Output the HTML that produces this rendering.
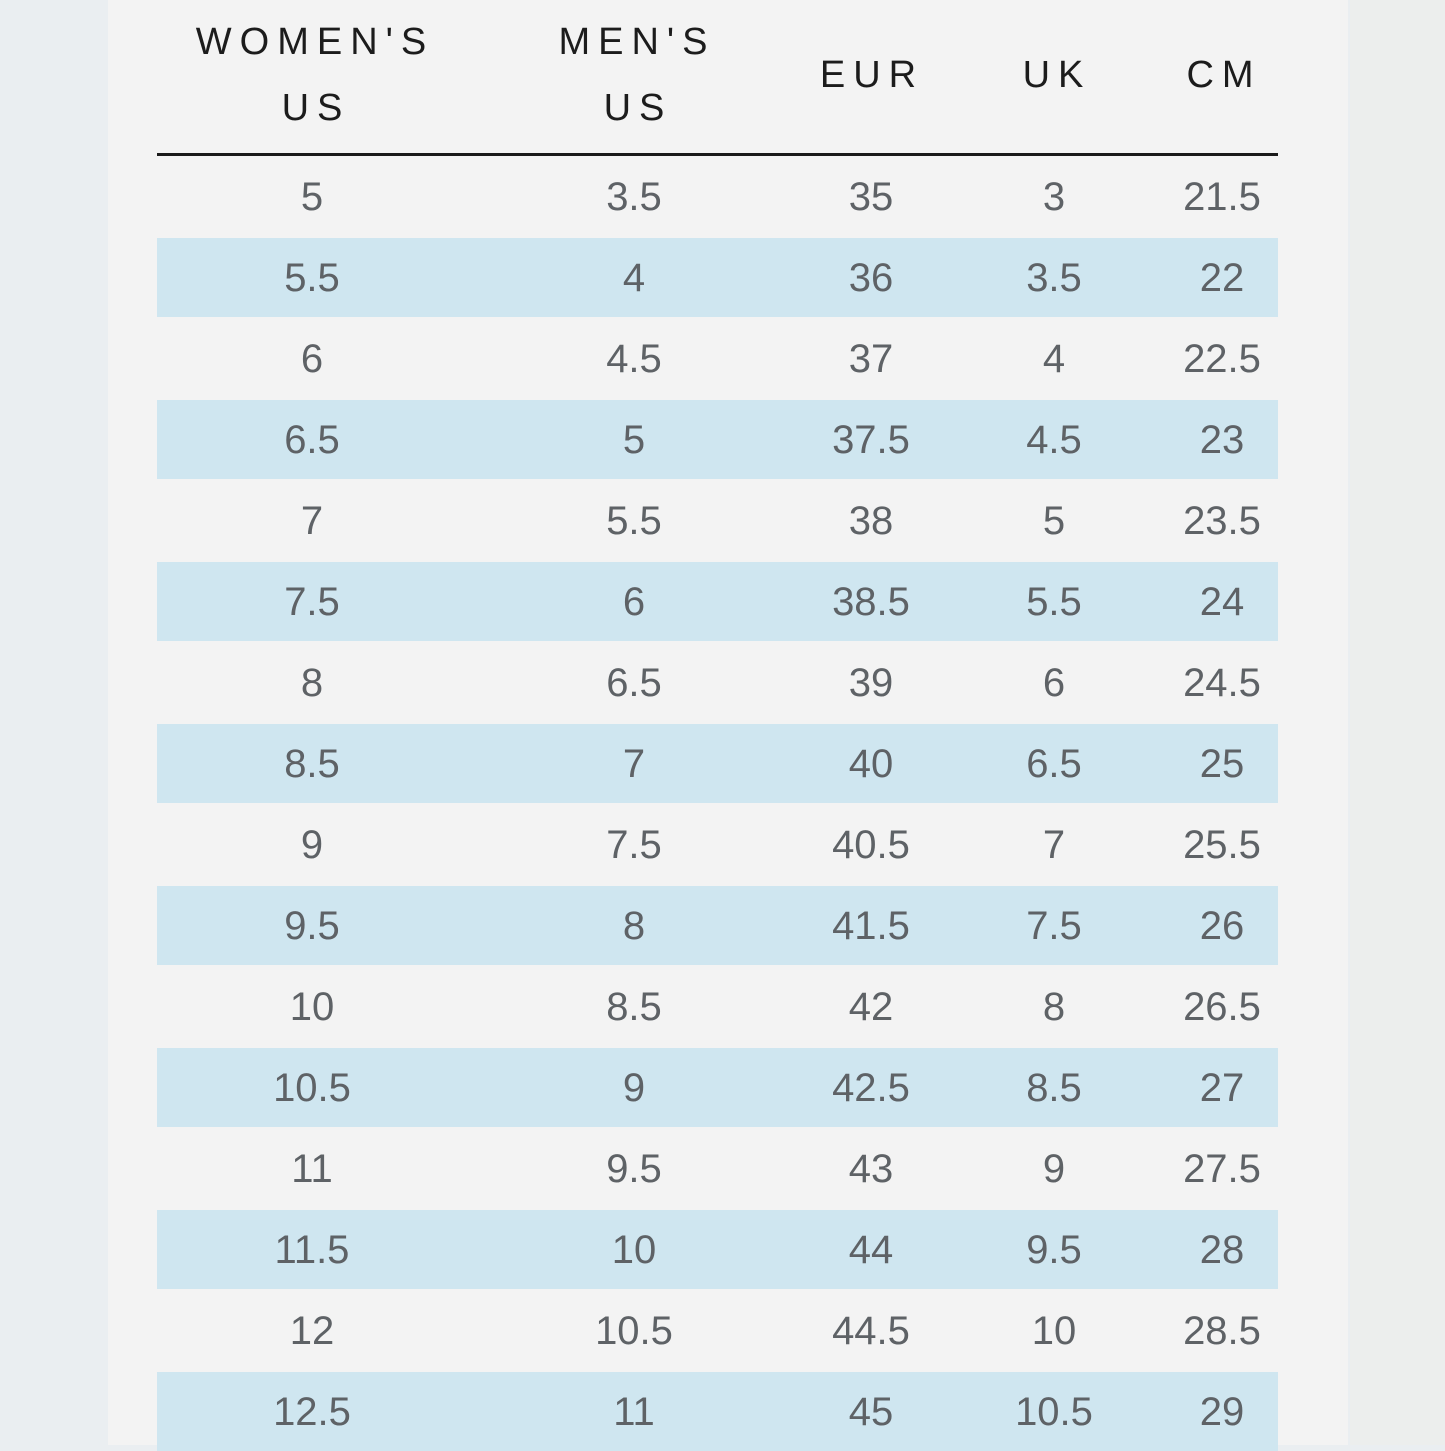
<!DOCTYPE html>
<html><head><meta charset="utf-8"><style>
html,body{margin:0;padding:0}
body{width:1445px;height:1445px;position:relative;overflow:hidden;background:#eaeef1;font-family:"Liberation Sans",sans-serif}
.card{position:absolute;left:108px;top:0;width:1240px;height:1445px;background:#f3f3f3}
.right{position:absolute;left:1350px;top:0;width:95px;height:1445px;background:#eceeed}
.blue{position:absolute;left:157px;width:1121px;height:79px;background:#cfe6f0}
.line{position:absolute;left:157px;top:153px;width:1121px;height:3px;background:#1a1a1a}
.h{position:absolute;font-size:38px;line-height:38px;color:#1c1c1c;letter-spacing:8px;text-align:center;width:400px;margin-left:-200px;padding-left:8px;box-sizing:border-box}
.c{position:absolute;font-size:40px;line-height:40px;color:#5e6266;text-align:center;width:240px;margin-left:-120px}
</style></head><body>
<div class="card"></div><div class="right"></div>
<div class="line"></div>
<div class="h" style="left:311px;top:23px">WOMEN'S</div>
<div class="h" style="left:312px;top:89px">US</div>
<div class="h" style="left:633px;top:23px">MEN'S</div>
<div class="h" style="left:634px;top:89px">US</div>
<div class="h" style="left:868px;top:56px">EUR</div>
<div class="h" style="left:1053px;top:56px">UK</div>
<div class="h" style="left:1220px;top:56px">CM</div>
<div id="rows"></div>
<script>
var d=[["5","3.5","35","3","21.5"],["5.5","4","36","3.5","22"],["6","4.5","37","4","22.5"],["6.5","5","37.5","4.5","23"],["7","5.5","38","5","23.5"],["7.5","6","38.5","5.5","24"],["8","6.5","39","6","24.5"],["8.5","7","40","6.5","25"],["9","7.5","40.5","7","25.5"],["9.5","8","41.5","7.5","26"],["10","8.5","42","8","26.5"],["10.5","9","42.5","8.5","27"],["11","9.5","43","9","27.5"],["11.5","10","44","9.5","28"],["12","10.5","44.5","10","28.5"],["12.5","11","45","10.5","29"]];
var xs=[312,634,871,1054,1222],h="";
for(var i=0;i<d.length;i++){var cy=197+81*i;
if(i%2==1)h+='<div class="blue" style="top:'+(cy-40)+'px"></div>';
for(var j=0;j<5;j++)h+='<div class="c" style="left:'+xs[j]+'px;top:'+(cy-20)+'px">'+d[i][j]+'</div>';}
document.getElementById("rows").innerHTML=h;
</script>
</body></html>
